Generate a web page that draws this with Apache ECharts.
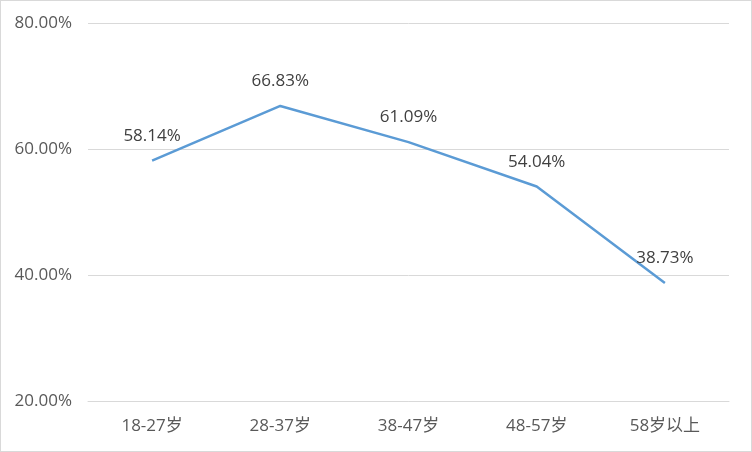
<!DOCTYPE html>
<html><head><meta charset="utf-8">
<script src="https://cdn.jsdelivr.net/npm/echarts@6/dist/echarts.min.js"></script>
<style>html,body{margin:0;padding:0;background:#fff}#c{width:752px;height:452px;box-sizing:border-box;border:1px solid #d9d9d9}</style>
</head><body><div id="c"></div>
<script>
var categories = ['18-27岁', '28-37岁', '38-47岁', '48-57岁', '58岁以上'];
var values = [58.14, 66.83, 61.09, 54.04, 38.73];
var yMin = 20, yMax = 80, yStep = 20;
var chart = echarts.init(document.getElementById('c'));
var font = '"Open Sans","Noto Sans CJK SC",sans-serif';
chart.setOption({
  animation: false,
  grid: {left: 87, right: 22, top: 22, bottom: 50},
  xAxis: {
    type: 'category', data: categories, boundaryGap: true,
    axisLine: {lineStyle: {color: '#d9d9d9'}},
    axisTick: {show: false},
    axisLabel: {color: '#595959', fontSize: 17, margin: 17, fontFamily: font}
  },
  yAxis: {
    type: 'value', min: yMin, max: yMax, interval: yStep,
    axisLine: {show: false}, axisTick: {show: false},
    splitLine: {lineStyle: {color: '#d9d9d9'}},
    axisLabel: {color: '#595959', fontSize: 17, margin: 16, fontFamily: font,
      formatter: function (v) { return v.toFixed(2) + '%'; }}
  },
  series: [{
    type: 'line', data: values, showSymbol: true, symbol: 'circle', symbolSize: 0,
    lineStyle: {color: '#5B9BD5', width: 2.5},
    itemStyle: {color: '#5B9BD5'},
    label: {show: true, position: 'top', distance: 16, color: '#404040', fontSize: 17, fontFamily: font,
      formatter: function (p) { return p.value.toFixed(2) + '%'; }}
  }]
});
</script></body></html>
